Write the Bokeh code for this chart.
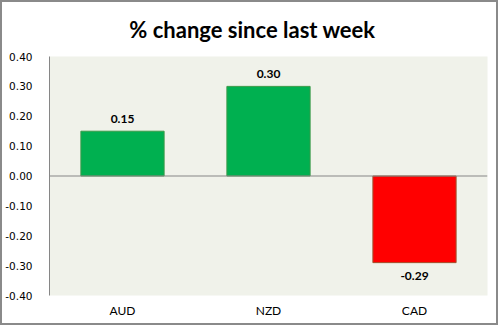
from bokeh.plotting import figure
from bokeh.models import ColumnDataSource, FixedTicker, NumeralTickFormatter, Span, LabelSet
from bokeh.core.properties import value
from bokeh.embed import file_html
from bokeh.resources import INLINE

title = "% change since last week"
categories = ["AUD", "NZD", "CAD"]
values = [0.15, 0.30, -0.29]
labels = ["0.15", "0.30", "-0.29"]
fills = ["#00B050", "#00B050", "#FF0000"]
edges = ["#3A9A48", "#3A9A48", "#A0522D"]
yticks = [-0.4, -0.3, -0.2, -0.1, 0.0, 0.1, 0.2, 0.3, 0.4]

src = ColumnDataSource(dict(cat=categories, val=values, fill=fills, edge=edges))

p = figure(x_range=categories, y_range=(-0.4, 0.4), width=498, height=325,
           output_backend="svg", toolbar_location=None,
           min_border_left=47, min_border_right=13, min_border_top=54, min_border_bottom=32)
p.styles = {"border": "2px solid #8a8a8a"}
# trailing no-break spaces shift the frame-centred title onto the canvas centre
p.title.text = title + "\u00a0" * 6
p.title.align = "center"
p.title.vertical_align = "middle"
p.title.standoff = 25
p.title.text_font = "Lato"
p.title.text_font_style = "bold"
p.title.text_font_size = "22px"
p.title.text_color = "#000000"
p.background_fill_color = "#F0F2EA"
p.border_fill_color = "#FFFFFF"
p.outline_line_color = None
p.xgrid.visible = False
p.ygrid.visible = False

p.vbar(x="cat", top="val", bottom=0, width=0.57, source=src,
       fill_color="fill", line_color="edge", line_width=1)

p.add_layout(Span(location=0, dimension="width", line_color="#868686", line_width=1))

lab_pos = ColumnDataSource(dict(cat=[c for c, v in zip(categories, values) if v >= 0],
                                val=[v for v in values if v >= 0],
                                lab=[l for l, v in zip(labels, values) if v >= 0]))
lab_neg = ColumnDataSource(dict(cat=[c for c, v in zip(categories, values) if v < 0],
                                val=[v for v in values if v < 0],
                                lab=[l for l, v in zip(labels, values) if v < 0]))
for s, yo, base in ((lab_pos, 8, "bottom"), (lab_neg, -9, "top")):
    p.add_layout(LabelSet(x="cat", y="val", text="lab", source=s, y_offset=yo,
                          text_align="center", text_baseline=base,
                          text_font=value("Lato"), text_font_style="bold",
                          text_font_size="12px", text_color="#000000"))

p.yaxis.ticker = FixedTicker(ticks=yticks)
p.yaxis.formatter = NumeralTickFormatter(format="0.00")
p.yaxis.axis_line_color = "#868686"
p.yaxis.major_tick_line_color = None
p.yaxis.minor_tick_line_color = None
p.yaxis.major_label_standoff = 11
p.yaxis.major_label_text_font = "DejaVu Sans"
p.yaxis.major_label_text_font_size = "10.5px"
p.yaxis.major_label_text_color = "#000000"

p.xaxis.axis_line_color = None
p.xaxis.major_tick_line_color = None
p.xaxis.minor_tick_line_color = None
p.xaxis.major_label_standoff = 1
p.xaxis.major_label_text_font = "Lato"
p.xaxis.major_label_text_font_size = "12px"
p.xaxis.major_label_text_color = "#000000"

open("out.html", "w").write(file_html(p, INLINE))
